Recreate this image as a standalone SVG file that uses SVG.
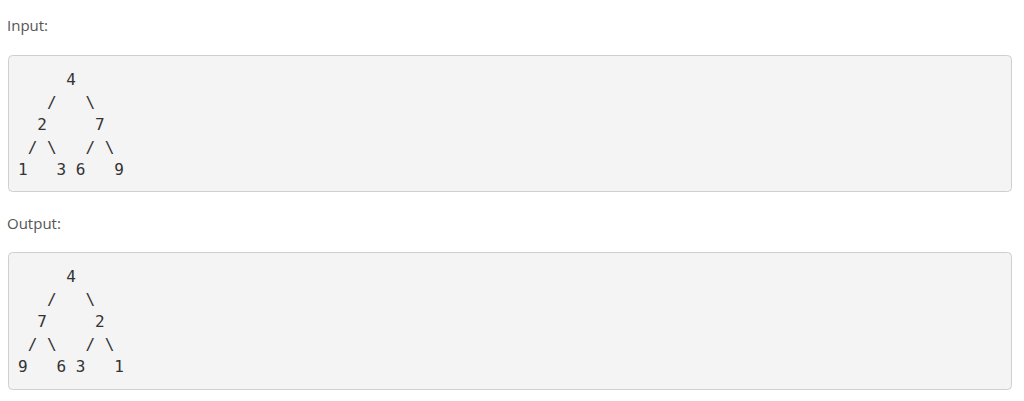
<svg xmlns="http://www.w3.org/2000/svg" width="1024" height="401" viewBox="0 0 1024 401">
<style>
.lbl{font-family:"Open Sans","Liberation Sans",sans-serif;font-size:15px;fill:#555}
.box{fill:#f4f4f4;stroke:#cfcfcf;stroke-width:1}
.code{font-family:"DejaVu Sans Mono","Liberation Mono",monospace;font-size:16px;fill:#333;white-space:pre}
</style>
<rect width="1024" height="401" fill="#ffffff"/>
<g id="input">
<text class="lbl" x="7" y="31">Input:</text>
<rect class="box" x="8.5" y="55.5" width="1003" height="136" rx="4"/>
<text class="code" xml:space="preserve"><tspan x="18" y="85">     4</tspan><tspan x="18" y="107.5">   /   \</tspan><tspan x="18" y="130">  2     7</tspan><tspan x="18" y="152.5"> / \   / \</tspan><tspan x="18" y="175">1   3 6   9</tspan></text>
</g>
<g id="output">
<text class="lbl" x="7" y="229">Output:</text>
<rect class="box" x="8.5" y="252.5" width="1003" height="137" rx="4"/>
<text class="code" xml:space="preserve"><tspan x="18" y="282">     4</tspan><tspan x="18" y="304.5">   /   \</tspan><tspan x="18" y="327">  7     2</tspan><tspan x="18" y="349.5"> / \   / \</tspan><tspan x="18" y="372">9   6 3   1</tspan></text>
</g>
</svg>
